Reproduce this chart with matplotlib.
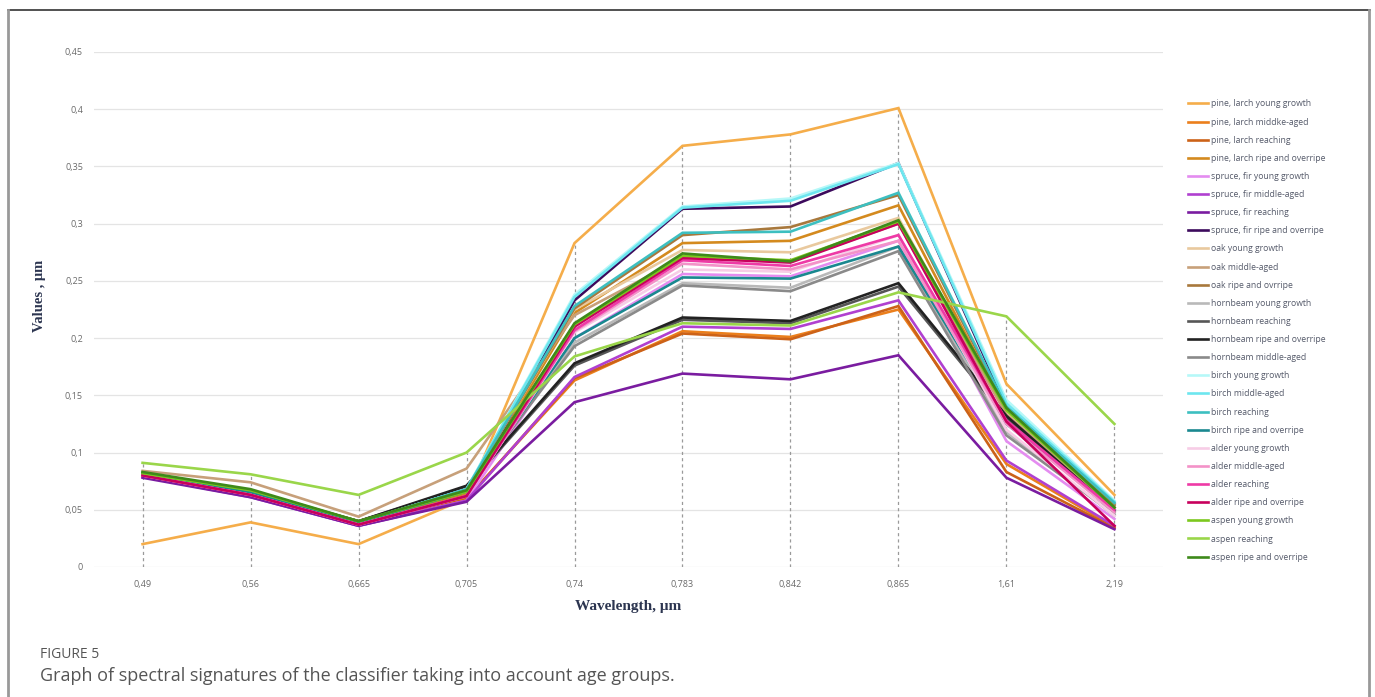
import matplotlib
matplotlib.use("Agg")
import matplotlib.pyplot as plt
from matplotlib.lines import Line2D

# Wavelength categories (x axis)
wavelengths = ["0,49", "0,56", "0,665", "0,705", "0,74", "0,783", "0,842", "0,865", "1,61", "2,19"]

# Spectral signatures, one list per class
pine_larch_young = [0.020, 0.039, 0.020, 0.060, 0.283, 0.368, 0.378, 0.401, 0.160, 0.063]
pine_larch_middle = [0.080, 0.062, 0.037, 0.060, 0.163, 0.206, 0.201, 0.225, 0.090, 0.035]
pine_larch_reaching = [0.080, 0.062, 0.037, 0.059, 0.165, 0.204, 0.199, 0.228, 0.083, 0.034]
pine_larch_ripe = [0.081, 0.064, 0.038, 0.064, 0.222, 0.283, 0.285, 0.316, 0.135, 0.052]
spruce_fir_young = [0.079, 0.062, 0.036, 0.058, 0.200, 0.256, 0.254, 0.285, 0.110, 0.042]
spruce_fir_middle = [0.079, 0.061, 0.036, 0.058, 0.166, 0.210, 0.208, 0.233, 0.093, 0.036]
spruce_fir_reaching = [0.078, 0.061, 0.036, 0.057, 0.144, 0.169, 0.164, 0.185, 0.078, 0.033]
spruce_fir_ripe = [0.080, 0.063, 0.037, 0.062, 0.233, 0.313, 0.315, 0.353, 0.140, 0.055]
oak_young = [0.082, 0.066, 0.040, 0.068, 0.225, 0.277, 0.275, 0.305, 0.135, 0.055]
oak_middle = [0.084, 0.074, 0.044, 0.086, 0.220, 0.270, 0.267, 0.300, 0.133, 0.052]
oak_ripe = [0.082, 0.066, 0.040, 0.068, 0.226, 0.290, 0.297, 0.325, 0.138, 0.054]
hornbeam_young = [0.081, 0.065, 0.039, 0.068, 0.196, 0.248, 0.244, 0.280, 0.118, 0.045]
hornbeam_reaching = [0.082, 0.066, 0.040, 0.070, 0.176, 0.216, 0.213, 0.245, 0.130, 0.048]
hornbeam_ripe = [0.082, 0.066, 0.040, 0.071, 0.178, 0.218, 0.215, 0.248, 0.132, 0.049]
hornbeam_middle = [0.081, 0.065, 0.039, 0.068, 0.193, 0.246, 0.241, 0.276, 0.115, 0.046]
birch_young = [0.082, 0.066, 0.039, 0.068, 0.238, 0.315, 0.322, 0.353, 0.146, 0.058]
birch_middle = [0.082, 0.066, 0.039, 0.068, 0.236, 0.314, 0.320, 0.352, 0.143, 0.057]
birch_reaching = [0.082, 0.066, 0.039, 0.068, 0.228, 0.292, 0.293, 0.327, 0.140, 0.056]
birch_ripe = [0.081, 0.065, 0.039, 0.066, 0.200, 0.253, 0.252, 0.280, 0.125, 0.050]
alder_young = [0.080, 0.063, 0.037, 0.062, 0.205, 0.260, 0.258, 0.290, 0.120, 0.045]
alder_middle = [0.080, 0.063, 0.037, 0.062, 0.206, 0.265, 0.260, 0.285, 0.125, 0.048]
alder_reaching = [0.080, 0.063, 0.037, 0.062, 0.207, 0.268, 0.263, 0.290, 0.128, 0.050]
alder_ripe = [0.080, 0.063, 0.037, 0.062, 0.210, 0.270, 0.266, 0.300, 0.127, 0.036]
aspen_young = [0.082, 0.067, 0.040, 0.066, 0.212, 0.272, 0.268, 0.302, 0.137, 0.052]
aspen_reaching = [0.091, 0.081, 0.063, 0.100, 0.184, 0.213, 0.211, 0.240, 0.219, 0.125]
aspen_ripe = [0.083, 0.068, 0.040, 0.067, 0.213, 0.274, 0.267, 0.303, 0.139, 0.052]

labels = [
    "pine, larch young growth", "pine, larch middke-aged", "pine, larch reaching",
    "pine, larch ripe and overripe", "spruce, fir young growth", "spruce, fir middle-aged",
    "spruce, fir reaching", "spruce, fir ripe and overripe", "oak young growth",
    "oak middle-aged", "oak ripe and ovrripe", "hornbeam young growth", "hornbeam reaching",
    "hornbeam ripe and overripe", "hornbeam middle-aged", "birch young growth",
    "birch middle-aged", "birch reaching", "birch ripe and overripe", "alder young growth",
    "alder middle-aged", "alder reaching", "alder ripe and overripe", "aspen young growth",
    "aspen reaching", "aspen ripe and overripe",
]
series = [
    pine_larch_young, pine_larch_middle, pine_larch_reaching, pine_larch_ripe,
    spruce_fir_young, spruce_fir_middle, spruce_fir_reaching, spruce_fir_ripe,
    oak_young, oak_middle, oak_ripe,
    hornbeam_young, hornbeam_reaching, hornbeam_ripe, hornbeam_middle,
    birch_young, birch_middle, birch_reaching, birch_ripe,
    alder_young, alder_middle, alder_reaching, alder_ripe,
    aspen_young, aspen_reaching, aspen_ripe,
]
colors = [
    "#F5AD4A", "#EB7F1C", "#CC6218", "#D48A1E",
    "#E48CF0", "#B040D0", "#7A1CA0", "#3C0A5C",
    "#E9C99E", "#C7A07A", "#A8783C",
    "#B9B9B9", "#565656", "#222222", "#8A8A8A",
    "#B6F8F8", "#6DE6EF", "#3DBFC0", "#1A8890",
    "#F7CDE6", "#F392C8", "#EE3AA6", "#C7005C",
    "#7CC81E", "#9AD64A", "#3E8A1A",
]

W, H = 1375, 697
fig = plt.figure(figsize=(W / 100, H / 100), dpi=100)

# axes placement in pixels
left_px, right_px, top_px, bot_px = 94, 1163, 52, 567
ax = fig.add_axes([left_px / W, 1 - bot_px / H, (right_px - left_px) / W, (bot_px - top_px) / H])

x = list(range(len(wavelengths)))
tops = [max(s[i] for s in series) for i in x]
ax.vlines(x, 0, tops, colors="#9a9a9a", linestyles=(0, (2.5, 2.5)), linewidth=0.9, zorder=1)

for vals, lab, col in zip(series, labels, colors):
    ax.plot(x, vals, color=col, linewidth=1.9, label=lab, zorder=2, solid_joinstyle="miter")

ax.set_xlim(-0.45, len(wavelengths) - 0.55)
ax.set_ylim(0, 0.45)
ax.set_yticks([0, 0.05, 0.1, 0.15, 0.2, 0.25, 0.3, 0.35, 0.4, 0.45])
ax.set_yticklabels(["0", "0,05", "0,1", "0,15", "0,2", "0,25", "0,3", "0,35", "0,4", "0,45"])
ax.set_xticks(x)
ax.set_xticklabels(wavelengths)
ax.tick_params(length=0, labelsize=6.5, labelcolor="#6a6a6a", pad=9)
ax.tick_params(axis="y", pad=8)
for t in ax.get_xticklabels() + ax.get_yticklabels():
    t.set_family("Open Sans")
ax.grid(axis="y", color="#e4e4e4", linewidth=0.9, zorder=0)
ax.set_axisbelow(True)
for sp in ax.spines.values():
    sp.set_visible(False)

ax.set_xlabel("Wavelength, μm", family="Liberation Serif", fontweight="bold",
              fontsize=11, color="#2c3550")
ax.xaxis.set_label_coords(0.5, -0.065)
ax.set_ylabel("Values , μm", family="Liberation Serif", fontweight="bold",
              fontsize=10.5, color="#2c3550")
ax.yaxis.set_label_coords(-0.045, 0.526)

leg = ax.legend(loc="upper left", bbox_to_anchor=(1185 / W, 1 - 96 / H),
                bbox_transform=fig.transFigure, frameon=False,
                handlelength=2.3, handletextpad=0.35, labelspacing=1.06,
                borderaxespad=0, prop={"family": "Open Sans", "size": 6.2})
for t in leg.get_texts():
    t.set_color("#555a6a")

# caption
fig.text(40 / W, 1 - 655 / H, "FIGURE 5", family="Open Sans", fontsize=10,
         color="#555555", va="center", ha="left")
fig.text(40 / W, 1 - 676 / H,
         "Graph of spectral signatures of the classifier taking into account age groups.",
         family="Open Sans", fontsize=13, color="#555555", va="center", ha="left")

# outer frame
fig.add_artist(Line2D([8 / W, 1370 / W], [1 - 10 / H, 1 - 10 / H], transform=fig.transFigure,
                      color="#333333", linewidth=1.2))
fig.add_artist(Line2D([8 / W, 8 / W], [0, 1 - 10 / H], transform=fig.transFigure,
                      color="#999999", linewidth=2))
fig.add_artist(Line2D([1369 / W, 1369 / W], [0, 1 - 10 / H], transform=fig.transFigure,
                      color="#999999", linewidth=2))

fig.savefig("out.png", dpi=100)
